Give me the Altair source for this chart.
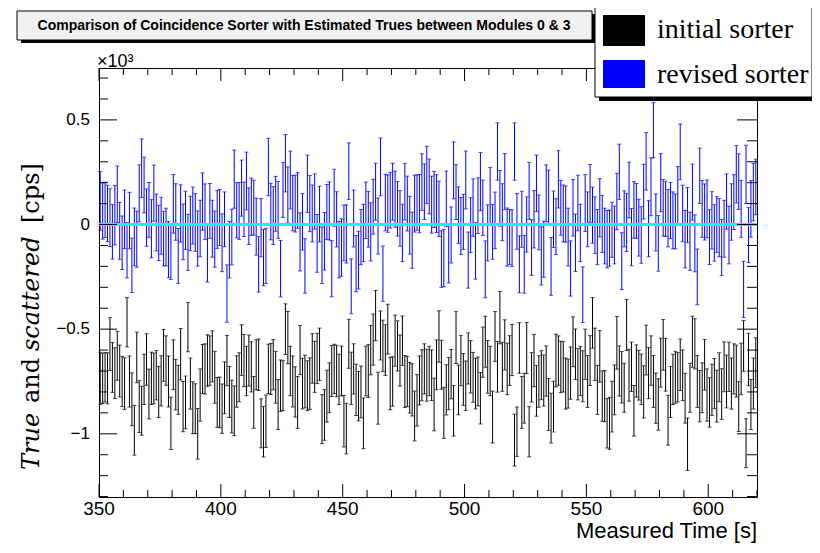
import altair as alt
import pandas as pd

# ---------------- data (cps, one value per 1 s bin from 350 s) ----------------
t_start = 350
blue_cps = [
    113, 65, 70, 53, 33, -35, 45, 145, -30, -87, 25, -123, 19, -195, -59, -70, 149, 269, 189, 33, 70, -20, 150, 10, -40,
    -6, -67, -60, -120, -130, 99, 60, -150, 53, -35, 20, -85, 5, 43, 10, -67, -19, 110, 61, -135, 65, -20, -70, 24,
    33, -87, 25, -330, -120, -60, 217, 68, 65, 174, 73, 208, 40, 85, 81, -10, -190, -15, -158, -150, 275, 62, 43, 99, 70,
    -211, 165, 293, 141, 213, 102, 100, 115, -83, 13, -198, 195, 100, 53, 110, -90, 50, -147, -80, 60, 65, -211, 128, 25, -120,
    -110, -40, -45, 255, -295, 29, -187, -170, -60, -40, 68, 25, -35, 85, 157, -7, 275, -235, 105, 100, 116, 157, 121, 75,
    29, -40, 157, 100, -3, -75, 100, 105, 100, 203, 157, 237, 182, 95, 120, 100, 75, -165, -160, 123, -140, -50, 259, 155, 45,
    -7, 13, 213, -170, -3, 81, -126, 90, 205, 80, -214, -40, 135, -35, 20, 349, 125, 59, 205, -60, -60, -65, 349, 15, -190,
    25, -190, 0, 161, -110, 25, 197, 10, -150, -118, 149, 128, -200, 25, -10, 216, 80, 53, 50, -60, -210, 80, -87, 103,
    -40, -335, 103, 25, 149, 45, -3, -60, 80, 3, -55, -70, -65, -25, -50, 110, 252, -175, 27, 10, 165, -60, 70, 65, -15,
    -50, 157, 302, -20, 180, 451, 10, -90, 200, 80, 75, 30, 67, 20, 15, 139, 347, 53, -70, 45, -80, 155, -90, -250,
    233, 75, 60, 75, -60, 20, -40, 0, -15, -110, -20, 110, -50, 60, 107, 240, 205, 75, -310, 240, -50, 75, 155, 180,
]
blue_err = [
    140, 135, 132, 135, 138, 130, 142, 135, 136, 128, 140, 132, 135, 130, 138, 134, 136, 140, 133, 137, 131, 139, 134, 136, 132,
    136, 130, 138, 134, 132, 140, 135, 131, 137, 133, 139, 134, 130, 136, 138, 132, 135, 137, 133, 140, 131, 136, 134, 138,
    134, 138, 131, 137, 135, 133, 139, 132, 136, 134, 130, 138, 135, 137, 131, 136, 133, 139, 134, 132, 137, 135, 138, 131, 136,
    135, 131, 137, 134, 138, 132, 136, 133, 139, 135, 130, 137, 134, 136, 132, 138, 133, 135, 137, 131, 139, 134, 136, 132, 135,
    137, 133, 139, 135, 131, 136, 134, 138, 132, 137, 135, 133, 139, 131, 136, 134, 138, 132, 135, 137, 133, 136, 134, 130,
    133, 137, 135, 131, 138, 134, 136, 132, 139, 135, 133, 137, 131, 136, 134, 138, 132, 135, 137, 133, 139, 134, 136, 131, 135,
    136, 132, 138, 134, 131, 137, 135, 133, 139, 132, 136, 134, 138, 131, 135, 137, 133, 136, 134, 139, 132, 135, 137, 133, 136,
    134, 138, 132, 136, 133, 137, 135, 131, 139, 134, 136, 132, 138, 135, 133, 137, 131, 136, 134, 138, 132, 135, 137, 133,
    137, 133, 136, 131, 138, 134, 135, 132, 139, 136, 133, 137, 134, 131, 138, 135, 132, 136, 134, 139, 133, 137, 135, 131, 136,
    135, 131, 137, 134, 138, 132, 136, 133, 139, 135, 132, 137, 134, 136, 131, 138, 133, 135, 137, 132, 139, 134, 136, 133,
    132, 136, 134, 138, 131, 137, 135, 133, 139, 134, 136, 132, 138, 135, 131, 137, 133, 136, 134, 139, 132, 135, 137, 133,
]
black_cps = [
    -735, -735, -730, -735, -571, -683, -710, -627, -700, -750, -760, -467, -750, -835, -983, -635, -870, -890, -740, -645, -810, -735, -735, -720, -800,
    -747, -625, -650, -750, -950, -670, -765, -790, -620, -870, -850, -490, -760, -875, -880, -1000, -815, -690, -690, -650, -650, -630, -730, -850,
    -850, -880, -780, -650, -800, -870, -890, -750, -730, -600, -650, -700, -650, -680, -850, -670, -670, -950, -990, -940, -690, -690, -670, -730, -860,
    -770, -770, -500, -540, -700, -750, -800, -850, -600, -760, -750, -770, -760, -640, -680, -640, -620, -930, -910, -820, -780, -700, -690, -700, -740,
    -700, -940, -975, -570, -735, -690, -790, -820, -800, -950, -700, -700, -600, -550, -435, -830, -530, -580, -600, -500, -760, -750, -555, -580,
    -650, -555, -750, -750, -780, -790, -915, -840, -745, -720, -690, -720, -700, -720, -860, -670, -535, -670, -900, -790, -760, -715, -890, -540, -790,
    -650, -740, -770, -640, -680, -730, -760, -750, -830, -610, -560, -680, -700, -920, -535, -680, -445, -680, -575, -690, -650, -600, -1030, -990, -590,
    -850, -830, -590, -990, -730, -650, -795, -750, -720, -745, -700, -860, -925, -870, -650, -650, -680, -680, -760, -760, -710, -560, -620, -715,
    -700, -725, -620, -750, -650, -470, -620, -790, -630, -820, -820, -950, -950, -870, -790, -565, -700, -730, -780, -480, -720, -680, -890, -700, -720,
    -740, -800, -600, -710, -650, -750, -830, -860, -660, -575, -670, -935, -800, -740, -730, -730, -670, -720, -830, -1050, -780, -560, -570, -750,
    -820, -780, -670, -815, -850, -790, -760, -820, -730, -810, -680, -750, -680, -760, -690, -700, -870, -690, -580, -1045, -645, -860, -760, -660,
]
black_err = [
    125, 120, 118, 122, 126, 119, 121, 117, 124, 120, 123, 118, 122, 126, 119, 121, 124, 117, 120, 123, 119, 125, 121, 118, 122,
    120, 124, 118, 122, 125, 119, 121, 117, 123, 120, 126, 118, 122, 124, 119, 121, 125, 117, 120, 123, 118, 122, 124, 119,
    121, 118, 124, 120, 122, 126, 119, 123, 117, 121, 125, 118, 122, 120, 124, 119, 123, 117, 121, 125, 118, 122, 120, 124, 119,
    123, 119, 121, 125, 118, 122, 120, 124, 117, 121, 126, 119, 123, 118, 122, 120, 125, 117, 121, 124, 119, 122, 118, 123, 120,
    119, 123, 121, 117, 125, 120, 122, 118, 124, 121, 119, 126, 118, 122, 120, 124, 117, 123, 121, 119, 125, 118, 122, 120,
    122, 118, 124, 120, 121, 125, 119, 123, 117, 122, 120, 124, 118, 121, 126, 119, 123, 117, 122, 120, 125, 118, 121, 124, 119,
    120, 124, 118, 122, 125, 119, 121, 117, 123, 120, 122, 126, 118, 124, 119, 121, 125, 117, 120, 123, 119, 122, 124, 118, 121,
    124, 119, 122, 120, 118, 125, 121, 123, 117, 122, 120, 124, 119, 121, 126, 118, 123, 120, 122, 117, 125, 119, 121, 123,
    118, 122, 120, 124, 119, 121, 125, 117, 123, 120, 122, 118, 124, 121, 119, 126, 120, 123, 117, 122, 124, 118, 121, 125, 119,
    121, 125, 119, 122, 118, 124, 120, 123, 117, 121, 126, 119, 122, 120, 124, 118, 123, 121, 119, 125, 117, 122, 120, 124,
    123, 119, 121, 125, 118, 122, 120, 124, 117, 121, 119, 126, 118, 122, 120, 124, 119, 123, 121, 117, 125, 120, 122, 119,
]

x_major = [350, 400, 450, 500, 550, 600]
x_labels = ["350", "400", "450", "500", "550", "600"]
x_minor = [v for v in range(350, 621, 10) if v not in x_major]
y_major = [-1000, -500, 0, 500]
y_labels = ["\u22121", "\u22120.5", "0", "0.5"]
y_minor = [v for v in range(-1300, 701, 100) if v not in y_major]

title_text = "Comparison of Coincidence Sorter with Estimated Trues between Modules 0 & 3"
x_title = "Measured Time [s]"
legend_labels = ["initial sorter", "revised sorter"]
legend_colors = ["#000000", "#0000ff"]


def series_frame(vals, errs):
    n = min(len(vals), len(errs))
    return pd.DataFrame({
        "t": [t_start + 0.5 + i for i in range(n)],
        "lo": [vals[i] - errs[i] for i in range(n)],
        "hi": [vals[i] + errs[i] for i in range(n)],
    })


df_black = series_frame(black_cps, black_err)
df_blue = series_frame(blue_cps, blue_err)

W, H = 658, 429
xs = alt.Scale(domain=[350, 620], nice=False, zero=False)
ys = alt.Scale(domain=[-1302, 748], nice=False, zero=False)
SANS = "Liberation Sans"
SERIF = "DejaVu Serif"


def err_layers(df, color):
    rules = alt.Chart(df).mark_rule(color=color, strokeWidth=1).encode(
        x=alt.X("t:Q", scale=xs, axis=None),
        y=alt.Y("lo:Q", scale=ys, axis=None),
        y2="hi:Q",
    )
    cap_lo = alt.Chart(df).mark_tick(color=color, orient="horizontal", size=4, thickness=1).encode(
        x=alt.X("t:Q", scale=xs, axis=None), y=alt.Y("lo:Q", scale=ys, axis=None))
    cap_hi = alt.Chart(df).mark_tick(color=color, orient="horizontal", size=4, thickness=1).encode(
        x=alt.X("t:Q", scale=xs, axis=None), y=alt.Y("hi:Q", scale=ys, axis=None))
    return [rules, cap_lo, cap_hi]


cyan = alt.Chart(pd.DataFrame({"v": [0]})).mark_rule(color="#00ffff", strokeWidth=3).encode(
    y=alt.Y("v:Q", scale=ys, axis=None), x=alt.value(0), x2=alt.value(W))


def ytick(vals, x0, x1):
    return alt.Chart(pd.DataFrame({"v": vals})).mark_rule(color="black", strokeWidth=1).encode(
        y=alt.Y("v:Q", scale=ys, axis=None), x=alt.value(x0), x2=alt.value(x1))


def xtick(vals, y0, y1):
    return alt.Chart(pd.DataFrame({"v": vals})).mark_rule(color="black", strokeWidth=1).encode(
        x=alt.X("v:Q", scale=xs, axis=None), y=alt.value(y0), y2=alt.value(y1))


ticks = [
    ytick(y_major, 0, 18), ytick(y_minor, 0, 9),
    ytick(y_major, W, W - 20), ytick(y_minor, W, W - 10),
    xtick(x_major, H, H - 13), xtick(x_minor, H, H - 7),
    xtick(x_major, 0, 13), xtick(x_minor, 0, 7),
]

x_tick_labels = alt.Chart(pd.DataFrame({"v": x_major, "s": x_labels})).mark_text(
    font=SANS, fontSize=19, align="center", baseline="top", color="black").encode(
    x=alt.X("v:Q", scale=xs, axis=None), y=alt.value(H + 3), text="s:N")
y_tick_labels = alt.Chart(pd.DataFrame({"v": y_major, "s": y_labels})).mark_text(
    font=SANS, fontSize=17, align="right", baseline="middle", color="black").encode(
    y=alt.Y("v:Q", scale=ys, axis=None), x=alt.value(-9), text="s:N")

one = pd.DataFrame({"a": [0]})


def box(x0, x1, y0, y1, fill, stroke=None):
    kw = dict(fill=fill)
    if stroke:
        kw.update(stroke=stroke, strokeWidth=1)
    return alt.Chart(one).mark_rect(**kw).encode(
        x=alt.value(x0), x2=alt.value(x1), y=alt.value(y0), y2=alt.value(y1))


def label(text, x, y, size, font=SANS, align="left", baseline="alphabetic", **kw):
    return alt.Chart(one).mark_text(text=text, font=font, fontSize=size, align=align,
                                    baseline=baseline, color="black", **kw).encode(
        x=alt.value(x), y=alt.value(y))


deco = [
    # title box with shadow
    box(-78, 496, -54, -25, "black"),
    box(-82, 493, -57, -28, "#f0f0f0", "black"),
    label(title_text, 205, -42, 14, align="center", baseline="middle", fontWeight="bold"),
    # legend box with shadow
    box(500, 716, -63, 33, "black"),
    box(496, 713, -70, 29, "white", "black"),
    box(504, 546, -53, -22, legend_colors[0]),
    label(legend_labels[0], 558, -30, 28, font="Liberation Serif"),
    box(504, 546, -8, 20, legend_colors[1]),
    label(legend_labels[1], 558, 15, 28, font="Liberation Serif"),
    # exponent
    label("×10³", -2, -1, 18),
    # x title
    label(x_title, W, H + 41, 22, align="right"),
    # y title (rotated, mixed italic)
    label("True", -67, 402, 24, font=SERIF, baseline="middle", angle=270, fontStyle="italic"),
    label("and", -67, 335, 24, font=SERIF, baseline="middle", angle=270),
    label("scattered", -67, 283, 24, font=SERIF, baseline="middle", angle=270, fontStyle="italic"),
    label("[cps]", -67, 155, 24, font=SERIF, baseline="middle", angle=270),
]

layers = err_layers(df_black, "black") + err_layers(df_blue, "#0000ff") + [cyan] + ticks + \
    [x_tick_labels, y_tick_labels] + deco

chart = alt.layer(*layers).properties(
    width=W, height=H,
    padding={"left": 91, "top": 60, "right": 55, "bottom": 47},
    autosize=alt.AutoSizeParams(type="none"),
).configure_view(stroke="black", strokeWidth=1)

chart.save("out.html", embed_options={"renderer": "svg", "actions": False})
